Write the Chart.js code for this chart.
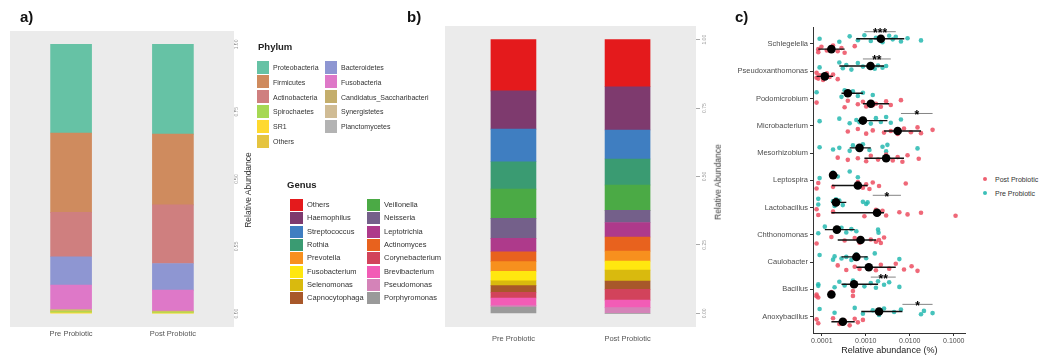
<!DOCTYPE html>
<html>
<head>
<meta charset="utf-8">
<script src="https://cdn.jsdelivr.net/npm/chart.js@4.4.0/dist/chart.umd.min.js"></script>
<style>
  body { margin: 0; background: #fff; font-family: "Liberation Sans", Arial, sans-serif; }
  #fig { position: relative; width: 1044px; height: 356px; overflow: hidden; }
  canvas { position: absolute; top: 0; }
  .lbl { position: absolute; white-space: nowrap; line-height: 1; }
  .panel { font-weight: bold; font-size: 15px; color: #111; }
  .ytitle { font-size: 8.5px; color: #333; transform: translate(-50%, -50%) rotate(-90deg); }
  .legtitle { font-weight: bold; font-size: 9.5px; color: #222; transform: translateY(-50%); }
  .legtxt { font-size: 6.5px; color: #333; transform: translateY(-50%); }
  .sw { position: absolute; }
  .dot { position: absolute; width: 4px; height: 4px; border-radius: 50%; }
</style>
</head>
<body>
<div id="fig">
  <canvas id="chartA" width="248" height="356" style="left:0px"></canvas>
  <canvas id="chartB" width="275" height="356" style="left:440px"></canvas>
  <canvas id="chartC" width="250" height="356" style="left:720px"></canvas>
</div>
<script>
// ---- panel a / b: stacked relative abundance ----
const groups = ['Pre Probiotic', 'Post Probiotic'];
const abundanceTicks = [0, 0.25, 0.5, 0.75, 1];

const phyla = ['Proteobacteria', 'Firmicutes', 'Actinobacteria', 'Spirochaetes', 'SR1', 'Others',
  'Bacteroidetes', 'Fusobacteria', 'Candidatus_Saccharibacteri', 'Synergistetes', 'Planctomycetes'];
const phylumColors = ['#66C2A5', '#CF8B5E', '#CF7F7F', '#A6D854', '#FFD92F', '#E5C440',
  '#8E96D2', '#DE78C8', '#C4AE6C', '#D0BC95', '#B3B3B3'];
const phylumPre = [0.329, 0.295, 0.165, 0.004, 0.003, 0.004, 0.105, 0.091, 0.002, 0.001, 0.001];
const phylumPost = [0.333, 0.263, 0.218, 0.003, 0.002, 0.002, 0.099, 0.078, 0.001, 0.0005, 0.0005];
// top to bottom
const phylumStack = ['Proteobacteria', 'Firmicutes', 'Actinobacteria', 'Bacteroidetes', 'Fusobacteria',
  'Candidatus_Saccharibacteri', 'Synergistetes', 'Planctomycetes', 'Others', 'Spirochaetes', 'SR1'];

const genera = ['Others', 'Haemophilus', 'Streptococcus', 'Rothia', 'Prevotella', 'Fusobacterium',
  'Selenomonas', 'Capnocytophaga', 'Veillonella', 'Neisseria', 'Leptotrichia', 'Actinomyces',
  'Corynebacterium', 'Brevibacterium', 'Pseudomonas', 'Porphyromonas'];
const genusColors = ['#E41A1C', '#7E3A6E', '#3F7EC1', '#3A9B72', '#F7901E', '#FFE70F',
  '#D9BA0E', '#A8582A', '#4BAA45', '#74608A', '#AE3A8B', '#E8621E',
  '#D2435B', '#F25CB6', '#D483B8', '#9A9A9A'];
const genusPre = [0.187, 0.140, 0.119, 0.100, 0.036, 0.034, 0.018, 0.024,
  0.107, 0.073, 0.049, 0.036, 0.021, 0.028, 0.005, 0.023];
const genusPost = [0.172, 0.158, 0.106, 0.095, 0.036, 0.033, 0.040, 0.030,
  0.093, 0.044, 0.053, 0.052, 0.040, 0.027, 0.021, 0.0];
const genusStack = ['Others', 'Haemophilus', 'Streptococcus', 'Rothia', 'Veillonella', 'Neisseria',
  'Leptotrichia', 'Actinomyces', 'Prevotella', 'Fusobacterium', 'Selenomonas', 'Capnocytophaga',
  'Corynebacterium', 'Brevibacterium', 'Pseudomonas', 'Porphyromonas'];

// ---- panel c: genus level relative abundance (%) ----
const taxa = ['Schlegelella', 'Pseudoxanthomonas', 'Podomicrobium', 'Microbacterium', 'Mesorhizobium',
  'Leptospira', 'Lactobacillus', 'Chthonomonas', 'Caulobacter', 'Bacillus', 'Anoxybacillus'];
const preValues = [
  [8.9e-5, 2.5e-4, 4.3e-4, 6.6e-4, 9.3e-4, 1.3e-3, 1.7e-3, 2.4e-3, 3.4e-3, 4.1e-3, 4.8e-3, 6.3e-3, 8.9e-3, 1.8e-2],
  [8.9e-5, 2.5e-4, 3.0e-4, 3.6e-4, 4.7e-4, 6.6e-4, 8.6e-4, 1.3e-3, 1.6e-3, 1.9e-3, 2.4e-3, 2.9e-3],
  [7.6e-5, 2.8e-4, 3.3e-4, 3.9e-4, 5.1e-4, 6.6e-4, 8.6e-4, 1.44e-3],
  [8.9e-5, 2.5e-4, 4.3e-4, 6.1e-4, 7.2e-4, 8.6e-4, 1.3e-3, 1.7e-3, 2.2e-3, 2.9e-3, 3.7e-3, 6.3e-3],
  [8.9e-5, 1.8e-4, 2.5e-4, 4.3e-4, 5.1e-4, 6.6e-4, 8.6e-4, 1.21e-3, 2.4e-3, 2.9e-3, 3.1e-3, 1.5e-2],
  [8.9e-5, 1.8e-4, 2.3e-4, 4.3e-4, 6.6e-4],
  [8.3e-5, 8.3e-5, 1.8e-4, 1.95e-4, 2.1e-4, 2.3e-4, 2.5e-4, 3.0e-4, 8.6e-4, 1.02e-3, 1.1e-3],
  [8.3e-5, 1.17e-4, 2.1e-4, 2.8e-4, 3.6e-4, 4.7e-4, 6.1e-4, 1.9e-3, 1.95e-3],
  [8.9e-5, 1.8e-4, 1.95e-4, 2.8e-4, 3.6e-4, 4.7e-4, 6.1e-4, 1.02e-3, 1.6e-3, 5.8e-3],
  [8.3e-5, 8.3e-5, 1.95e-4, 2.5e-4, 3.3e-4, 5.1e-4, 9.3e-4, 1.3e-3, 1.7e-3, 1.9e-3, 2.6e-3, 3.4e-3, 5.8e-3],
  [8.9e-5, 1.95e-4, 5.6e-4, 8.6e-4, 1.44e-3, 2.0e-3, 2.6e-3, 4.4e-3, 6.3e-3, 1.8e-2, 2.1e-2, 3.3e-2]
];
const postValues = [
  [8.3e-5, 8.3e-5, 9.8e-5, 1.3e-4, 1.8e-4, 2.3e-4, 2.8e-4, 3.3e-4, 5.6e-4],
  [7.6e-5, 7.6e-5, 8.3e-5, 8.9e-5, 1.07e-4, 1.3e-4, 1.5e-4, 1.8e-4, 2.3e-4],
  [7.6e-5, 3.3e-4, 3.9e-4, 6.6e-4, 8.6e-4, 1.02e-3, 1.21e-3, 1.44e-3, 1.7e-3, 2.2e-3, 2.9e-3, 3.7e-3, 6.3e-3],
  [3.9e-4, 6.6e-4, 1.02e-3, 1.44e-3, 2.6e-3, 3.7e-3, 5.3e-3, 7.4e-3, 1.06e-2, 1.5e-2, 1.8e-2, 3.3e-2],
  [2.3e-4, 3.9e-4, 6.6e-4, 1.02e-3, 1.3e-3, 1.9e-3, 2.9e-3, 4.1e-3, 5.3e-3, 6.8e-3, 8.9e-3, 1.6e-2],
  [7.6e-5, 8.3e-5, 1.8e-4, 6.6e-4, 8.6e-4, 1.02e-3, 1.21e-3, 1.44e-3, 2.0e-3, 8.1e-3],
  [7.6e-5, 8.3e-5, 1.8e-4, 9.3e-4, 1.7e-3, 2.0e-3, 2.4e-3, 2.9e-3, 5.8e-3, 8.9e-3, 1.8e-2, 1.1e-1],
  [7.6e-5, 1.65e-4, 3.3e-4, 5.6e-4, 7.2e-4, 1.3e-3, 1.7e-3, 2.0e-3, 2.2e-3, 2.6e-3],
  [2.3e-4, 3.6e-4, 5.6e-4, 7.2e-4, 1.21e-3, 1.7e-3, 2.2e-3, 3.4e-3, 4.8e-3, 7.4e-3, 1.1e-2, 1.5e-2],
  [7.6e-5, 7.6e-5, 8.3e-5, 1.65e-4, 5.1e-4, 5.1e-4],
  [7.6e-5, 8.3e-5, 1.8e-4, 2.5e-4, 3.3e-4, 4.3e-4, 5.6e-4, 6.6e-4, 8.6e-4]
];
const preMean = [2.2e-3, 1.28e-3, 3.9e-4, 8.6e-4, 7.2e-4, 1.8e-4, 2.1e-4, 2.2e-4, 6.1e-4, 5.4e-4, 2.0e-3];
const preLow = [6.1e-4, 2.5e-4, 2.8e-4, 6.6e-4, 4.3e-4, 1.7e-4, 1.65e-4, 1.17e-4, 2.8e-4, 2.8e-4, 7.9e-4];
const preHigh = [7.5e-3, 2.6e-3, 8.6e-4, 3.1e-3, 1.3e-3, 2.3e-4, 3.6e-4, 5.6e-4, 1.1e-3, 1.9e-3, 6.8e-3];
const postMean = [1.65e-4, 1.17e-4, 1.3e-3, 5.3e-3, 2.9e-3, 6.6e-4, 1.8e-3, 7.6e-4, 1.17e-3, 1.65e-4, 3.0e-4];
const postLow = [8.3e-5, 7.6e-5, 8.6e-4, 2.6e-3, 9.3e-4, 1.7e-4, 1.65e-4, 2.3e-4, 6.1e-4, 1.6e-4, 1.65e-4];
const postHigh = [3.3e-4, 1.8e-4, 3.4e-3, 1.8e-2, 7.4e-3, 1.1e-3, 2.6e-3, 1.7e-3, 4.8e-3, 1.7e-4, 5.6e-4];
const sigTaxa = ['Schlegelella', 'Pseudoxanthomonas', 'Microbacterium', 'Lactobacillus', 'Bacillus', 'Anoxybacillus'];
const sigFrom = [9.3e-4, 8.6e-4, 6.3e-3, 1.44e-3, 1.3e-3, 6.8e-3];
const sigTo = [4.8e-3, 3.7e-3, 3.3e-2, 6.3e-3, 4.8e-3, 3.3e-2];
const sigLabel = ['***', '**', '*', '*', '**', '*'];
const logTicks = [0.0001, 0.001, 0.01, 0.1];

const FONT = '"Liberation Sans", Arial, sans-serif';
Chart.defaults.font.family = FONT;

const fig = document.getElementById('fig');
function addText(cls, text, left, top, extra) {
  const d = document.createElement('div');
  d.className = 'lbl ' + cls;
  d.textContent = text;
  d.style.left = left + 'px';
  d.style.top = top + 'px';
  if (extra) Object.assign(d.style, extra);
  fig.appendChild(d);
  return d;
}

const panelBg = {
  id: 'panelBg',
  beforeDraw(chart, args, opts) {
    if (!opts.color) return;
    const { ctx, chartArea: a } = chart;
    ctx.save();
    ctx.fillStyle = opts.color;
    ctx.fillRect(a.left, a.top, a.right - a.left, a.bottom - a.top);
    ctx.restore();
  }
};

function stackDatasets(names, colors, pre, post, stack, thickness) {
  // Chart.js stacks the first dataset at the bottom
  return stack.slice().reverse().map(name => {
    const i = names.indexOf(name);
    return {
      label: name,
      data: [{ x: 0, y: pre[i] }, { x: 1, y: post[i] }],
      backgroundColor: colors[i],
      borderWidth: 0,
      stack: 'all',
      barThickness: thickness
    };
  });
}

function barPanel(id, datasets, L) {
  return new Chart(document.getElementById(id), {
    type: 'bar',
    data: { datasets: datasets },
    plugins: [panelBg],
    options: {
      responsive: false,
      animation: false,
      layout: { padding: { left: L.left, top: L.top, right: 0, bottom: 0 } },
      plugins: { legend: { display: false }, tooltip: { enabled: false }, panelBg: { color: '#EBEBEB' } },
      scales: {
        x: {
          type: 'linear', min: -0.6, max: 1.6, offset: false,
          grid: { display: false, drawTicks: false }, border: { display: false },
          afterBuildTicks: s => { s.ticks = groups.map((g, i) => ({ value: i })); },
          afterFit: s => { s.height = L.xh; },
          ticks: { autoSkip: false, padding: L.xpad, color: '#555', font: { size: 7.5 }, callback: v => groups[v] }
        },
        y: {
          position: 'right', stacked: true, min: -0.05, max: 1.05,
          grid: { display: true, drawOnChartArea: false, tickLength: L.tl, color: '#aaa' },
          border: { display: false },
          afterBuildTicks: s => { s.ticks = abundanceTicks.map(v => ({ value: v })); },
          afterFit: s => { s.width = L.yw; },
          ticks: { minRotation: 90, maxRotation: 90, crossAlign: 'center', padding: L.ypad,
            color: '#999', font: { size: 5 }, callback: v => v.toFixed(2) }
        }
      }
    }
  });
}

barPanel('chartA', stackDatasets(phyla, phylumColors, phylumPre, phylumPost, phylumStack, 41),
  { left: 10, top: 31, xh: 29, xpad: 2, yw: 14, tl: 2, ypad: -4 });
barPanel('chartB', stackDatasets(genera, genusColors, genusPre, genusPost, genusStack, 45),
  { left: 5, top: 26, xh: 29, xpad: 7, yw: 19, tl: 4, ypad: -0.5 });

// ---- panel c ----
const jitter = [0, 0.11, -0.09, 0.05, -0.13, 0.08, -0.04, 0.13, -0.11, 0.02, -0.07, 0.1, -0.02, 0.06];
const ROW = 0.19;
const SIG_LIFT = -0.45;

function jittered(values, shift) {
  const out = [];
  values.forEach((vals, g) => vals.forEach((v, k) => {
    out.push({ x: v, y: g + shift + jitter[(k + g * 3) % jitter.length] });
  }));
  return out;
}
function segments(lo, hi, rows) {
  const out = [];
  lo.forEach((v, i) => {
    out.push({ x: v, y: rows[i] }, { x: hi[i], y: rows[i] }, { x: NaN, y: NaN });
  });
  return out;
}
const meanPoints = preMean.map((v, g) => ({ x: v, y: g - ROW }))
  .concat(postMean.map((v, g) => ({ x: v, y: g + ROW })));
const errorBars = segments(preLow.concat(postLow), preHigh.concat(postHigh),
  taxa.map((t, g) => g - ROW).concat(taxa.map((t, g) => g + ROW)));
const sigBars = segments(sigFrom, sigTo, sigTaxa.map(t => taxa.indexOf(t) + SIG_LIFT));

const starText = {
  id: 'starText',
  afterDatasetsDraw(chart) {
    const { ctx, scales: { x, y } } = chart;
    ctx.save();
    ctx.fillStyle = '#000';
    ctx.font = 'bold 12px ' + FONT;
    ctx.textAlign = 'center';
    ctx.textBaseline = 'alphabetic';
    sigTaxa.forEach((t, i) => {
      const px = x.getPixelForValue(Math.sqrt(sigFrom[i] * sigTo[i]));
      const py = y.getPixelForValue(taxa.indexOf(t) + SIG_LIFT);
      ctx.fillText(sigLabel[i], px, py + 5.5);
    });
    ctx.restore();
  }
};

new Chart(document.getElementById('chartC'), {
  type: 'scatter',
  data: {
    datasets: [
      { label: 'mean', data: meanPoints, backgroundColor: '#000', borderWidth: 0, pointRadius: 4.3 },
      { label: 'sd', data: errorBars, showLine: true, borderColor: '#111', borderWidth: 1.4, pointRadius: 0 },
      { label: 'sig', data: sigBars, showLine: true, borderColor: '#666', borderWidth: 0.8, pointRadius: 0 },
      { label: 'Post Probiotic', data: jittered(postValues, ROW), backgroundColor: 'rgba(236,78,96,0.85)', borderWidth: 0, pointRadius: 2.3 },
      { label: 'Pre Probiotic', data: jittered(preValues, -ROW), backgroundColor: 'rgba(38,184,176,0.85)', borderWidth: 0, pointRadius: 2.3 }
    ]
  },
  plugins: [starText],
  options: {
    responsive: false,
    animation: false,
    layout: { padding: { left: 0, top: 27.6, right: 3, bottom: 0 } },
    plugins: { legend: { display: false }, tooltip: { enabled: false } },
    scales: {
      x: {
        type: 'logarithmic', min: 6.3e-5, max: 0.187,
        grid: { display: true, drawOnChartArea: false, tickLength: 3, color: '#333' },
        border: { display: true, color: '#333', width: 1 },
        afterBuildTicks: s => { s.ticks = logTicks.map(v => ({ value: v })); },
        afterFit: s => { s.height = 23; },
        ticks: { autoSkip: false, padding: 1, color: '#4d4d4d', font: { size: 7 }, callback: v => Number(v).toFixed(4) },
        title: { display: true, text: 'Relative abundance (%)', color: '#222', font: { size: 9 }, padding: { top: 0, bottom: 0 } }
      },
      y: {
        type: 'linear', min: -0.6, max: 10.6, reverse: true,
        grid: { display: true, drawOnChartArea: false, tickLength: 3, color: '#333' },
        border: { display: true, color: '#333', width: 1 },
        afterBuildTicks: s => { s.ticks = taxa.map((t, i) => ({ value: i })); },
        afterFit: s => { s.width = 93; },
        ticks: { autoSkip: false, padding: 2, color: '#4d4d4d', font: { size: 7.5 }, callback: v => taxa[v] }
      }
    }
  }
});

// ---- html text: panel letters, axis titles, legends ----
addText('panel', 'a)', 20, 9);
addText('panel', 'b)', 407, 9);
addText('panel', 'c)', 735, 9);
addText('ytitle', 'Relative Abundance', 248, 190);
addText('ytitle', 'Relative Abundance', 718, 182);

function legend(title, names, colors, o) {
  addText('legtitle', title, o.titleX, o.titleY);
  const perCol = o.perCol;
  names.forEach((n, i) => {
    const col = Math.floor(i / perCol), row = i % perCol;
    const cx = o.x + col * o.colGap, cy = o.y + row * o.rowGap;
    const sw = document.createElement('div');
    sw.className = 'sw';
    Object.assign(sw.style, { left: cx + 'px', top: (cy - o.sh / 2) + 'px', width: o.sw + 'px', height: o.sh + 'px', background: colors[i] });
    fig.appendChild(sw);
    addText('legtxt', n, cx + o.sw + 4, cy, { fontSize: o.fs + 'px' });
  });
}
legend('Phylum', phyla, phylumColors,
  { titleX: 258, titleY: 47, x: 257, y: 67, rowGap: 14.8, colGap: 68, perCol: 6, sw: 12, sh: 13, fs: 7 });
legend('Genus', genera, genusColors,
  { titleX: 287, titleY: 185, x: 290, y: 205, rowGap: 13.3, colGap: 77, perCol: 8, sw: 13, sh: 12, fs: 7.5 });

[['Post Probiotic', 'rgba(236,78,96,0.9)', 179], ['Pre Probiotic', 'rgba(38,184,176,0.9)', 193]].forEach(([t, c, y]) => {
  const d = document.createElement('div');
  d.className = 'dot';
  Object.assign(d.style, { left: '983px', top: (y - 2) + 'px', background: c });
  fig.appendChild(d);
  addText('legtxt', t, 995, y, { fontSize: '7px' });
});
</script>
</body>
</html>
